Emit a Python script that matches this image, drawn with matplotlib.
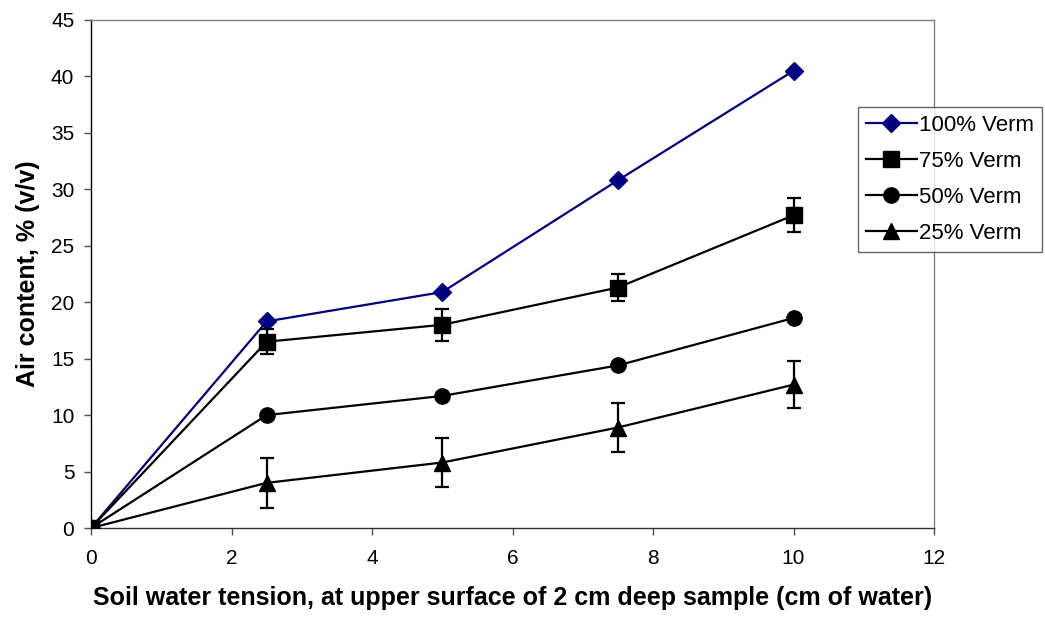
import matplotlib
matplotlib.use("Agg")
import matplotlib.pyplot as plt

plt.rcParams['font.family'] = ['Liberation Sans', 'DejaVu Sans']

x = [0, 2.5, 5, 7.5, 10]
verm100 = [0, 18.3, 20.9, 30.8, 40.5]
verm75 = [0, 16.5, 18.0, 21.3, 27.7]
verm75_err = [0, 1.1, 1.4, 1.2, 1.5]
verm50 = [0, 10.0, 11.7, 14.4, 18.6]
verm25 = [0, 4.0, 5.8, 8.9, 12.7]
verm25_err = [0, 2.2, 2.2, 2.2, 2.1]

xticks = [0, 2, 4, 6, 8, 10, 12]
yticks = [0, 5, 10, 15, 20, 25, 30, 35, 40, 45]

fig = plt.figure(figsize=(10.45, 6.22), dpi=100)
ax = fig.add_axes([91/1045, 1-528/622, (934-91)/1045, (528-20)/622])

h100, = ax.plot(x, verm100, color='#000080', marker='D', markersize=9, lw=1.6,
                label='100% Verm', zorder=3)
h75 = ax.errorbar(x, verm75, yerr=verm75_err, color='black', marker='s', markersize=11, lw=1.6,
                  capsize=4.7, elinewidth=1.6, capthick=1.6, label='75% Verm', zorder=4)
h50, = ax.plot(x, verm50, color='black', marker='o', markersize=11, lw=1.6,
               label='50% Verm', zorder=3)
h25 = ax.errorbar(x, verm25, yerr=verm25_err, color='black', marker='^', markersize=12, lw=1.6,
                  capsize=4.7, elinewidth=1.6, capthick=1.6, label='25% Verm', zorder=3)

ax.set_xlim(0, 12)
ax.set_ylim(0, 45)
ax.set_xticks(xticks)
ax.set_yticks(yticks)
ax.tick_params(direction='out', length=5, width=1, labelsize=15, color='#505050', labelcolor='black')
ax.tick_params(axis='x', pad=10)
ax.tick_params(axis='y', pad=7)
ax.spines['top'].set_color('#808080')
ax.spines['right'].set_color('#808080')
ax.spines['left'].set_color('black')
ax.spines['bottom'].set_color('#303030')
for s in ax.spines.values():
    s.set_linewidth(1)

ax.set_xlabel('Soil water tension, at upper surface of 2 cm deep sample (cm of water)',
              fontsize=18, fontweight='bold', labelpad=13)
ax.set_ylabel('Air content, % (v/v)', fontsize=18, fontweight='bold', labelpad=8)

leg = fig.legend([h100, h75[0], h50, h25[0]],
                 ['100% Verm', '75% Verm', '50% Verm', '25% Verm'],
                 loc='upper left', bbox_to_anchor=(858/1045, 1-107/622),
                 fontsize=16, frameon=True, fancybox=False, edgecolor='#404040',
                 handlelength=2.3, borderpad=0.35, labelspacing=0.68, handletextpad=0.1,
                 borderaxespad=0)
leg.get_frame().set_linewidth(1)

fig.savefig('out.png', dpi=100)
